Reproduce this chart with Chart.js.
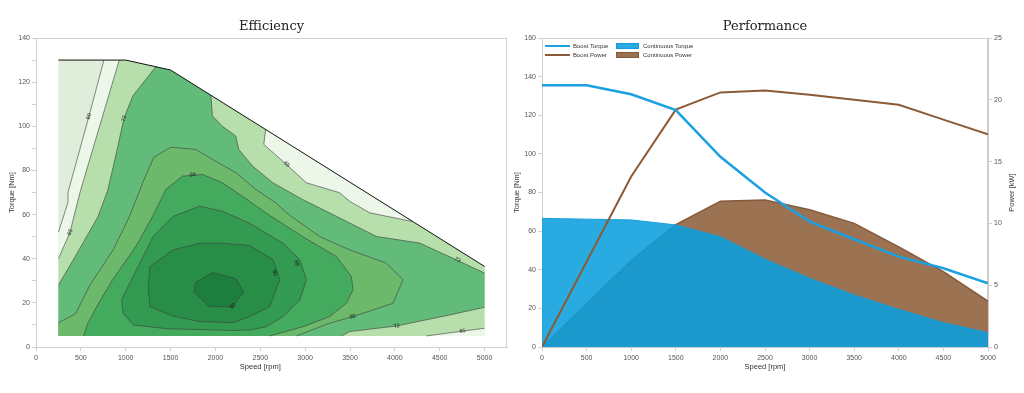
<!DOCTYPE html>
<html><head><meta charset="utf-8">
<script src="https://cdn.jsdelivr.net/npm/chart.js@4.4.1/dist/chart.umd.min.js"></script>
<style>
html,body{margin:0;padding:0;background:#fff;width:1024px;height:393px;overflow:hidden}
canvas{position:absolute;top:0}
#eff{left:0}
#perf{left:512px}
</style></head><body>
<canvas id="eff" width="512" height="393"></canvas>
<canvas id="perf" width="512" height="393"></canvas>
<script>
// ================= Efficiency map data: [speed rpm, torque Nm] =================
const speedTicks = [0,500,1000,1500,2000,2500,3000,3500,4000,4500,5000];
const envelopeTop = [[250,130],[1000,130],[1500,125.5],[5000,36.5]];
const floorLine = [[250,5],[5000,5]];
const line60  = [[250,52],[356,65.5],[356,70],[590,104.5],[757,130]];
const line65a = [[250,40],[379,52],[490,70],[928,130]];
const line65b = [[2560,98.55],[2539,91.8],[2792,82.7],[3014,74.4],[3385,69.9],[3497,66],[3719,60.8],[4202,56.8]];
const line65c = [[4350,5],[4760,7.2],[5000,8.5]];
const line72a = [[250,28],[480,44],[690,59],[800,71],[913,91],[980,103.6],[1080,113.8],[1336,127]];
const line72b = [[1949,114.1],[1967,104.7],[2078,100],[2227,95.6],[2260,89.5],[2413,82],[2640,74.4],[2973,66.8],[3348,59.2],[3794,50.1],[4276,47.1],[4685,39.5],[5000,33.5]];
const line72c = [[3404,5],[3497,7],[4016,9.5],[4610,14.5],[5000,18]];
const line80  = [[250,11],[440,15],[600,28],[860,44],[1040,59],[1190,74.5],[1314,86],[1503,90.5],[1782,89.5],[1967,85],[2227,79],[2450,71.4],[2673,65.3],[2792,60.8],[3163,50],[3497,44],[3905,38],[4091,30.5],[3979,19.8],[3534,13.8],[3274,10.8],[3125,8.5],[2903,5]];
const line84  = [[530,5],[580,11],[700,20],[854,30.5],[1114,45.6],[1299,59.2],[1448,71.4],[1633,77.4],[1856,78.2],[2078,74.4],[2301,68.3],[2561,60.8],[2973,50],[3348,41],[3515,32],[3534,26],[3460,19.8],[3274,13.8],[2977,9.2],[2606,5]];
const line88  = [[1826,63.8],[2078,61.5],[2383,56],[2754,47],[2940,39.5],[3014,30.5],[2940,21.4],[2754,13.8],[2569,9.2],[2383,7.7],[2197,7.5],[1455,8.3],[1084,10],[972,15.3],[954,21.4],[1084,32],[1306,50],[1529,59.2],[1826,63.8]];
const line90  = [[1826,47],[2078,47],[2383,46],[2643,39.5],[2717,30.5],[2606,18.3],[2383,13.8],[2197,11],[1826,11.5],[1529,14],[1269,18.3],[1251,27.4],[1269,36.5],[1529,44],[1826,47]];
const line92  = [[1967,33.7],[2227,31],[2316,25],[2190,18.3],[1930,18.3],[1760,25],[1782,29.3],[1967,33.7]];
// contour labels: [efficiency %, speed, torque]
const contourLabels = [[60,590,104.5],[72,980,103.6],[65,379,52],[84,1748,78],[65,2795,82.7],[88,2906,38],[90,2662,33.6],[92,2194,18.5],[80,3530,13.8],[72,4020,9.5],[65,4755,7.2],[72,4700,39.5]];
const regionColors = ['#dfeedb','#ecf6e9','#b6dfac','#62bb78','#6cb96b','#44aa5d','#339b51','#288d47','#1c7f3d'];

// ================= Performance data =================
const speed       = [0,500,1000,1500,2000,2500,3000,3500,4000,4500,5000];
const boostTorque = [135.5,135.5,130.9,122.7,98.5,80,64.9,55.8,46.8,40.8,33];
const contTorque  = [66.6,66.2,65.8,63.2,57.1,45.5,35.6,26.9,19.5,12.6,7.4];
const boostPower  = [0,6.9,13.8,19.2,20.6,20.75,20.4,20.0,19.6,18.4,17.2];
const contPower   = [0,3.5,7.0,9.9,11.8,11.9,11.1,10.0,8.1,6.1,3.7];

// ================= helpers =================
Chart.defaults.font.family = '"Liberation Sans", Arial, sans-serif';
Chart.defaults.font.size = 7;
Chart.defaults.color = '#555';
const axisColor = '#cfcfcf';
const xy = a => a.map(p => ({x:p[0], y:p[1]}));
const rev = a => a.slice().reverse();
const lastX = a => a[a.length-1][0];
const env = envelopeTop;
const [f0, f1] = floorLine;

const regions = [
  [f0, ...env, f1],
  [f0, ...line60, ...env.filter(p => p[0] > lastX(line60)), f1],
  [f0, ...line65a, ...env.filter(p => p[0] > lastX(line65a) && p[0] < line65b[0][0]), ...line65b, ...env.filter(p => p[0] > lastX(line65b)), ...rev(line65c)],
  [f0, ...line72a, ...env.filter(p => p[0] > lastX(line72a) && p[0] < line72b[0][0]), ...line72b, ...rev(line72c)],
  [f0, ...line80],
  line84, line88, line90, line92
];
const contourLines = [line60,line65a,line65b,line65c,line72a,line72b,line72c,line80,line84,line88,line90,line92];

const effDatasets = [];
regions.forEach((r,i) => effDatasets.push({
  data: xy(r), showLine:true, fill:'shape', backgroundColor: regionColors[i],
  borderColor:'transparent', borderWidth:0, pointRadius:0, order: 100 - i
}));
contourLines.forEach(l => effDatasets.push({
  data: xy(l), showLine:true, fill:false, borderColor:'#3c3c3c', borderWidth:0.6, pointRadius:0, order: 2
}));
effDatasets.push({data: xy(env), showLine:true, fill:false, borderColor:'#111', borderWidth:1, pointRadius:0, order:1});

function frameAxis(extra){
  return Object.assign({
    border:{color:axisColor, width:1},
    grid:{drawOnChartArea:false, color:axisColor, tickLength:4, tickWidth:1},
  }, extra);
}
const plain = v => String(v);

const framePlugin = {
  id:'frame',
  beforeDatasetsDraw(c){
    const a = c.chartArea, ctx = c.ctx;
    ctx.save(); ctx.strokeStyle = axisColor; ctx.lineWidth = 1;
    ctx.strokeRect(Math.round(a.left)+0.5, Math.round(a.top)+0.5, Math.round(a.right-a.left)-1, Math.round(a.bottom-a.top));
    ctx.restore();
  }
};

const textPlugin = {
  id:'panelText',
  afterDraw(c, args, o){
    const a = c.chartArea, ctx = c.ctx;
    ctx.save();
    ctx.fillStyle = '#222';
    ctx.font = '13px "DejaVu Serif", serif';
    ctx.textAlign = 'center'; ctx.textBaseline = 'alphabetic';
    ctx.fillText(o.title, (a.left + a.right)/2, 29.5);
    ctx.font = '7.5px "Liberation Sans", Arial, sans-serif';
    ctx.fillStyle = '#333'; ctx.textBaseline = 'middle';
    ctx.fillText(o.xTitle, c.scales.x.getPixelForValue(2500), 367);
    const cy = (a.top + a.bottom)/2;
    for (const [txt, x] of o.yTitles){
      ctx.save(); ctx.translate(x, cy); ctx.rotate(-Math.PI/2);
      ctx.fillText(txt, 0, 0); ctx.restore();
    }
    ctx.restore();
  }
};

function segDist(px,py,ax,ay,bx,by){
  const dx=bx-ax, dy=by-ay, L=dx*dx+dy*dy;
  let t = L ? ((px-ax)*dx+(py-ay)*dy)/L : 0;
  t = Math.max(0, Math.min(1, t));
  const qx=ax+t*dx, qy=ay+t*dy;
  return Math.hypot(px-qx, py-qy);
}
const labelPlugin = {
  id:'clabels',
  afterDatasetsDraw(c){
    const xs = c.scales.x, ys = c.scales.y, ctx = c.ctx;
    for (const [v, s, t] of contourLabels){
      const px = xs.getPixelForValue(s), py = ys.getPixelForValue(t);
      let best = Infinity, ang = 0;
      for (const ln of contourLines){
        for (let i=0;i<ln.length-1;i++){
          const ax=xs.getPixelForValue(ln[i][0]), ay=ys.getPixelForValue(ln[i][1]);
          const bx=xs.getPixelForValue(ln[i+1][0]), by=ys.getPixelForValue(ln[i+1][1]);
          const d = segDist(px,py,ax,ay,bx,by);
          if (d < best){ best = d; ang = Math.atan2(by-ay, bx-ax); }
        }
      }
      if (ang > Math.PI/2) ang -= Math.PI;
      if (ang < -Math.PI/2) ang += Math.PI;
      ctx.save();
      ctx.translate(px, py); ctx.rotate(ang);
      ctx.font = '5.5px "Liberation Sans", Arial, sans-serif';
      ctx.fillStyle = '#1a1a1a'; ctx.textAlign = 'center'; ctx.textBaseline = 'middle';
      ctx.fillText(String(v), 0, 0);
      ctx.restore();
    }
  }
};

new Chart(document.getElementById('eff'), {
  type:'scatter',
  data:{datasets: effDatasets},
  options:{
    responsive:false, animation:false, events:[], devicePixelRatio:1,
    layout:{padding:{top:38, right:5, left:0, bottom:0}},
    plugins:{legend:{display:false}, tooltip:{enabled:false},
      panelText:{title:'Efficiency', xTitle:'Speed [rpm]', yTitles:[['Torque [Nm]', 12]]}},
    scales:{
      x: frameAxis({type:'linear', min:0, max:5250,
        ticks:{autoSkip:false, maxRotation:0, padding:3, color:'#555', callback: plain},
        afterBuildTicks(s){ s.ticks = speedTicks.map(v => ({value: v})); },
        afterFit(s){ s.height = 46; }}),
      y: frameAxis({type:'linear', min:0, max:140,
        ticks:{stepSize:10, maxTicksLimit:40, autoSkip:false, padding:2, color:'#555', callback: v => (v % 20 === 0 ? String(v) : '')},
        afterFit(s){ s.width = 36; }})
    }
  },
  plugins:[framePlugin, labelPlugin, textPlugin]
});

// ================= Performance chart =================
const pts = vals => speed.map((s,i) => ({x:s, y:vals[i]}));
const perfLegend = {
  id:'perfLegend',
  afterDraw(c){
    const a = c.chartArea, ctx = c.ctx, ds = c.data.datasets;
    const cols = [a.left + 3, a.left + 74], rows = [a.top + 8, a.top + 17];
    ctx.save();
    ctx.font = '6px "Liberation Sans", Arial, sans-serif';
    ctx.textBaseline = 'middle'; ctx.textAlign = 'left';
    ds.forEach((d, i) => {
      const x = cols[Math.floor(i/2)], y = rows[i % 2];
      if (d.fill){
        ctx.fillStyle = d.backgroundColor; ctx.fillRect(x, y-3, 23, 6);
        ctx.strokeStyle = d.borderColor; ctx.lineWidth = 1; ctx.strokeRect(x+0.5, y-2.5, 22, 5);
        ctx.fillStyle = '#333'; ctx.fillText(d.label, x + 27, y);
      } else {
        ctx.strokeStyle = d.borderColor; ctx.lineWidth = 2;
        ctx.beginPath(); ctx.moveTo(x, y); ctx.lineTo(x + 25, y); ctx.stroke();
        ctx.fillStyle = '#333'; ctx.fillText(d.label, x + 28, y);
      }
    });
    ctx.restore();
  }
};

new Chart(document.getElementById('perf'), {
  type:'line',
  data:{datasets:[
    {label:'Boost Torque', data: pts(boostTorque), yAxisID:'y', borderColor:'#1ba1e2', borderWidth:2.5, pointRadius:0, fill:false, tension:0, order:0},
    {label:'Boost Power', data: pts(boostPower), yAxisID:'y2', borderColor:'#8b5a36', borderWidth:2, pointRadius:0, fill:false, tension:0, order:1},
    {label:'Continuous Torque', data: pts(contTorque), yAxisID:'y', borderColor:'#139cdb', backgroundColor:'rgba(9,158,222,0.87)', borderWidth:1, pointRadius:0, fill:'origin', tension:0, order:2},
    {label:'Continuous Power', data: pts(contPower), yAxisID:'y2', borderColor:'#85593a', backgroundColor:'#9b7353', borderWidth:1.5, pointRadius:0, fill:'origin', tension:0, order:3}
  ]},
  options:{
    responsive:false, animation:false, events:[], devicePixelRatio:1,
    layout:{padding:{top:38, right:0, left:0, bottom:0}},
    plugins:{legend:{display:false}, tooltip:{enabled:false},
      panelText:{title:'Performance', xTitle:'Speed [rpm]', yTitles:[['Torque [Nm]', 5], ['Power [kW]', 500]]}},
    scales:{
      x: frameAxis({type:'linear', min:0, max:5000,
        ticks:{stepSize:500, maxTicksLimit:40, autoSkip:false, maxRotation:0, padding:3, color:'#555', callback: plain},
        afterFit(s){ s.height = 46; }}),
      y: frameAxis({type:'linear', position:'left', min:0, max:160,
        ticks:{stepSize:20, autoSkip:false, padding:2, color:'#555', callback: plain},
        afterFit(s){ s.width = 30; }}),
      y2: frameAxis({type:'linear', position:'right', min:0, max:25,
        ticks:{stepSize:5, autoSkip:false, padding:2, color:'#555', callback: plain},
        afterFit(s){ s.width = 36; }})
    }
  },
  plugins:[framePlugin, perfLegend, textPlugin]
});
</script>
</body></html>
